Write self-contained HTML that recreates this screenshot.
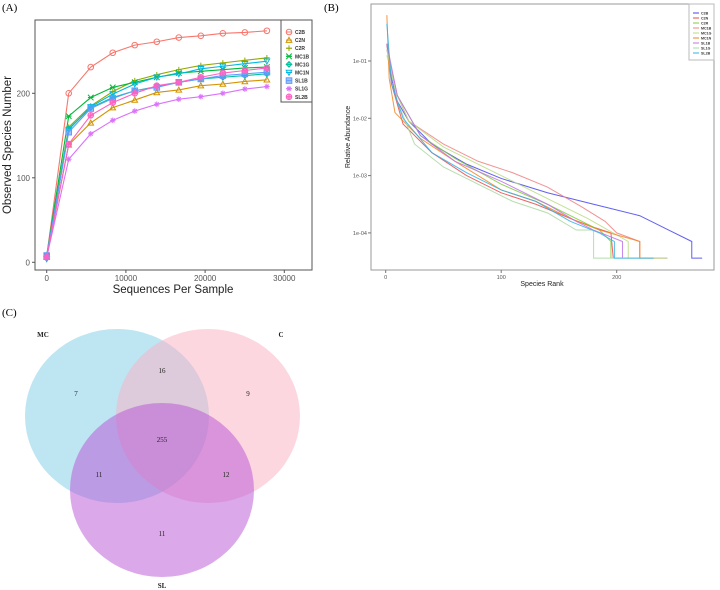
<!DOCTYPE html>
<html><head><meta charset="utf-8"><style>
html,body{margin:0;padding:0;background:#fff;width:720px;height:590px;overflow:hidden}
svg{display:block;font-family:"Liberation Sans",sans-serif}
.serif{font-family:"Liberation Serif",serif}
</style></head><body>
<svg id="fig" width="720" height="590" viewBox="0 0 720 590" xmlns="http://www.w3.org/2000/svg">
<text class="serif" x="2" y="11" font-size="11">(A)</text>
<text class="serif" x="324" y="11" font-size="11">(B)</text>
<text class="serif" x="2" y="316" font-size="11">(C)</text>
<g id="pa"></g>
<g id="pb"></g>
<g id="pc"></g>
</svg>
<script>
// ---------- Panel A data ----------
const seriesNames = ["C2B","C2N","C2R","MC1B","MC1G","MC1N","SL1B","SL1G","SL2B"];
const seqDepth = [0,2780,5560,8340,11120,13900,16680,19460,22240,25020,27800];
const obsC2B  = [7,200,231,248,257,261,266,268,271,272,274];
const obsC2N  = [6,139,165,183,192,201,204,209,211,214,216];
const obsC2R  = [7,160,185,202,215,222,228,233,236,239,242];
const obsMC1B = [8,173,195,207,213,219,224,226,228,230,231];
const obsMC1G = [5,158,183,195,203,208,213,217,219,221,223];
const obsMC1N = [4,157,184,199,211,219,223,229,232,235,238];
const obsSL1B = [8,154,182,194,203,207,213,217,221,223,225];
const obsSL1G = [6,122,152,168,179,187,193,196,200,205,208];
const obsSL2B = [6,140,174,189,200,209,213,219,224,227,230];
const xTicksA = [0,10000,20000,30000];
const yTicksA = [0,100,200];

// ---------- Panel B data (rank, log10 abundance) ----------
const rankC2B  = [1,5,10,20,40,70,100,140,180,220,245,265,265,274];
const logC2B   = [-0.7,-1.3,-1.7,-2.05,-2.45,-2.8,-3.05,-3.3,-3.5,-3.7,-3.95,-4.15,-4.44,-4.44];
const rankC2N  = [1,5,15,40,70,100,130,160,180,195,197];
const logC2N   = [-0.7,-1.4,-2.1,-2.6,-3.0,-3.3,-3.5,-3.75,-3.9,-4.0,-4.44];
const rankC2R  = [1,10,30,60,100,140,170,185,195,195];
const logC2R   = [-0.8,-1.6,-2.3,-2.7,-3.15,-3.5,-3.8,-3.95,-4.15,-4.44];
const rankMC1B = [1,10,20,50,80,110,140,170,190,200,220,220];
const logMC1B  = [-0.8,-1.6,-2.05,-2.45,-2.75,-2.95,-3.2,-3.55,-3.8,-4.0,-4.15,-4.44];
const rankMC1G = [1,10,20,50,80,110,140,175,210,210];
const logMC1G  = [-0.9,-1.6,-2.05,-2.5,-2.8,-3.1,-3.4,-3.75,-4.15,-4.44];
const rankMC1N = [1,3,8,30,60,100,130,160,185,220,220,244];
const logMC1N  = [-0.2,-1.3,-1.9,-2.35,-2.75,-3.25,-3.45,-3.75,-3.95,-4.15,-4.44,-4.44];
const rankSL1B = [1,10,30,60,100,140,165,180,205,205];
const logSL1B  = [-0.7,-1.6,-2.3,-2.75,-3.1,-3.5,-3.8,-3.95,-4.15,-4.44];
const rankSL1G = [1,10,25,50,80,110,140,165,180,180,244];
const logSL1G  = [-0.8,-1.7,-2.45,-2.85,-3.15,-3.45,-3.65,-3.95,-3.95,-4.44,-4.44];
const rankSL2B = [1,5,15,40,70,100,130,160,185,198,198,232];
const logSL2B  = [-0.35,-1.4,-2.0,-2.6,-2.95,-3.25,-3.45,-3.8,-4.0,-4.15,-4.44,-4.44];
const xTicksB = [0,100,200];
const yTicksB = [-1,-2,-3,-4];
const yTickLabelsB = ["1e-01","1e-02","1e-03","1e-04"];

// ---------- Panel C data ----------
const vennSets = ["MC","C","SL"];
const vennCounts = [7,16,9,255,11,12,11];

const NS="http://www.w3.org/2000/svg";
function mk(tag,attrs,parent){const e=document.createElementNS(NS,tag);for(const k in attrs)e.setAttribute(k,attrs[k]);parent.appendChild(e);return e;}

// ===== Panel A =====
const pa=document.getElementById('pa');
const xA=v=>46.7+v*0.00792;
const yA=v=>262.3-v*0.845;
let r=mk('rect',{x:35,y:20,width:277,height:250,fill:'#fff',stroke:'#555','stroke-width':1},pa);

xTicksA.forEach(t=>{mk('line',{x1:xA(t),x2:xA(t),y1:270,y2:273,stroke:'#555'},pa);
 const tx=mk('text',{x:xA(t),y:281,'font-size':8,fill:'#555','text-anchor':'middle'},pa);tx.textContent=t;
 });
yTicksA.forEach(t=>{mk('line',{x1:32,x2:35,y1:yA(t),y2:yA(t),stroke:'#555'},pa);
 const tx=mk('text',{x:30,y:yA(t)+3,'font-size':8,fill:'#555','text-anchor':'end'},pa);tx.textContent=t;
 });
let t1=mk('text',{x:173,y:293,'font-size':11.5,fill:'#222','text-anchor':'middle'},pa);t1.textContent='Sequences Per Sample';

let t2=mk('text',{x:0,y:0,'font-size':11.5,fill:'#222','text-anchor':'middle',transform:'translate(11,145) rotate(-90)'},pa);t2.textContent='Observed Species Number';


const colA=['#f8766d','#d39200','#93aa00','#00ba38','#00c19f','#00b9e3','#619cff','#db72fb','#ff61c3'];
const dataA=[obsC2B,obsC2N,obsC2R,obsMC1B,obsMC1G,obsMC1N,obsSL1B,obsSL1G,obsSL2B];
function marker(g,i,x,y,c){
 const s=2.8;const a={fill:'none',stroke:c,'stroke-width':1};
 switch(i){
 case 0: mk('circle',Object.assign({cx:x,cy:y,r:s},a),g);break;
 case 1: mk('polygon',Object.assign({points:`${x},${y-s} ${x-s},${y+s*0.8} ${x+s},${y+s*0.8}`},a),g);break;
 case 2: mk('path',Object.assign({d:`M${x-s} ${y}H${x+s}M${x} ${y-s}V${y+s}`},a),g);break;
 case 3: mk('path',Object.assign({d:`M${x-s} ${y-s}L${x+s} ${y+s}M${x-s} ${y+s}L${x+s} ${y-s}M${x-s} ${y}H${x+s}`},a),g);break;
 case 4: mk('polygon',Object.assign({points:`${x},${y-s} ${x+s},${y} ${x},${y+s} ${x-s},${y}`},a),g);mk('path',Object.assign({d:`M${x-s} ${y}H${x+s}M${x} ${y-s}V${y+s}`},a),g);break;
 case 5: mk('polygon',Object.assign({points:`${x},${y+s} ${x-s},${y-s*0.8} ${x+s},${y-s*0.8}`},a),g);break;
 case 6: mk('rect',{x:x-s,y:y-s,width:2*s,height:2*s,fill:c,'fill-opacity':0.6,stroke:c},g);break;
 case 7: mk('path',Object.assign({d:`M${x-s} ${y}H${x+s}M${x} ${y-s}V${y+s}M${x-s*.7} ${y-s*.7}L${x+s*.7} ${y+s*.7}M${x-s*.7} ${y+s*.7}L${x+s*.7} ${y-s*.7}`},a),g);break;
 case 8: mk('circle',{cx:x,cy:y,r:s,fill:c,'fill-opacity':0.5,stroke:c},g);mk('path',Object.assign({d:`M${x-s} ${y}H${x+s}M${x} ${y-s}V${y+s}`},a),g);break;
 }}
dataA.forEach((vals,i)=>{
 const g=mk('g',{},pa);
 
 
 mk('polyline',{points:vals.map((v,j)=>xA(seqDepth[j])+','+yA(v)).join(' '),fill:'none',stroke:colA[i],'stroke-width':1.1},g);
 vals.forEach((v,j)=>marker(g,i,xA(seqDepth[j]),yA(v),colA[i]));
});
const lgA=mk('g',{},pa);
mk('rect',{x:281,y:20,width:31,height:82,fill:'#fff',stroke:'#555'},lgA);
seriesNames.forEach((n,i)=>{const y=32+i*8.1;
 const g=mk('g',{},lgA);
 marker(g,i,289,y,colA[i]);mk('line',{x1:286,x2:292,y1:y,y2:y,stroke:colA[i]},g);
 const t=mk('text',{x:295,y:y+2,'font-size':5,'font-weight':'bold',fill:'#333'},g);t.textContent=n;});

// ===== Panel B =====
const pb=document.getElementById('pb');
const xB=v=>385.7+v*1.155;
const yB=v=>61+(-1-v)*57.3;
let rb=mk('rect',{x:371,y:4,width:343,height:266,fill:'#fff',stroke:'#999','stroke-width':1},pb);

xTicksB.forEach(t=>{mk('line',{x1:xB(t),x2:xB(t),y1:270,y2:273,stroke:'#777'},pb);
 const tx=mk('text',{x:xB(t),y:279,'font-size':5.5,fill:'#555','text-anchor':'middle'},pb);tx.textContent=t;
 });
yTicksB.forEach((t,i)=>{mk('line',{x1:368,x2:371,y1:yB(t),y2:yB(t),stroke:'#777'},pb);
 const tx=mk('text',{x:367,y:yB(t)+2,'font-size':5.5,fill:'#555','text-anchor':'end'},pb);tx.textContent=yTickLabelsB[i];
 });
let t3=mk('text',{x:542,y:286,'font-size':7,fill:'#222','text-anchor':'middle'},pb);t3.textContent='Species Rank';

let t4=mk('text',{x:0,y:0,'font-size':7,fill:'#222','text-anchor':'middle',transform:'translate(350,137) rotate(-90)'},pb);t4.textContent='Relative Abundance';

const colB=['#4444ee','#e84a4a','#7ccc3a','#f08080','#b8dc80','#f08420','#c070e8','#a8d8a0','#30b0e8'];
const ranksB=[rankC2B,rankC2N,rankC2R,rankMC1B,rankMC1G,rankMC1N,rankSL1B,rankSL1G,rankSL2B];
const logsB=[logC2B,logC2N,logC2R,logMC1B,logMC1G,logMC1N,logSL1B,logSL1G,logSL2B];
ranksB.forEach((rk,i)=>{
 const p=mk('polyline',{points:rk.map((v,j)=>xB(v)+','+yB(logsB[i][j])).join(' '),fill:'none',stroke:colB[i],'stroke-width':1,'stroke-opacity':0.85},pb);
 
 
});
const lgB=mk('g',{},pb);
mk('rect',{x:689,y:4,width:25,height:56,fill:'#fff',stroke:'#bbb'},lgB);
seriesNames.forEach((n,i)=>{const y=13+i*5;
 const g=mk('g',{},lgB);
 mk('line',{x1:693,x2:699,y1:y,y2:y,stroke:colB[i]},g);
 const t=mk('text',{x:701,y:y+1.5,'font-size':3.6,'font-weight':'bold',fill:'#333'},g);t.textContent=n;});

// ===== Panel C =====
const pc=document.getElementById('pc');
const circ=[{cx:117,cy:416,c:'#7dcbe5'},{cx:208,cy:416,c:'#fbafc1'},{cx:162,cy:490,c:'#b751d5'}];
circ.forEach((o,i)=>{const e=mk('ellipse',{cx:o.cx,cy:o.cy,rx:92,ry:87,fill:o.c,'fill-opacity':0.5},pc);
 });
const setPos=[[43,337],[281,337],[162,588]];
vennSets.forEach((s,i)=>{const t=mk('text',{x:setPos[i][0],y:setPos[i][1],'font-size':7,'font-weight':'bold','text-anchor':'middle',class:'serif',fill:'#222'},pc);t.textContent=s;
 });
const cntPos=[[76,396],[162,373],[248,396],[162,442],[99,477],[226,477],[162,536]];
vennCounts.forEach((v,i)=>{const t=mk('text',{x:cntPos[i][0],y:cntPos[i][1],'font-size':7,'text-anchor':'middle',class:'serif',fill:'#222'},pc);t.textContent=v;
 });
</script>
</body></html>
